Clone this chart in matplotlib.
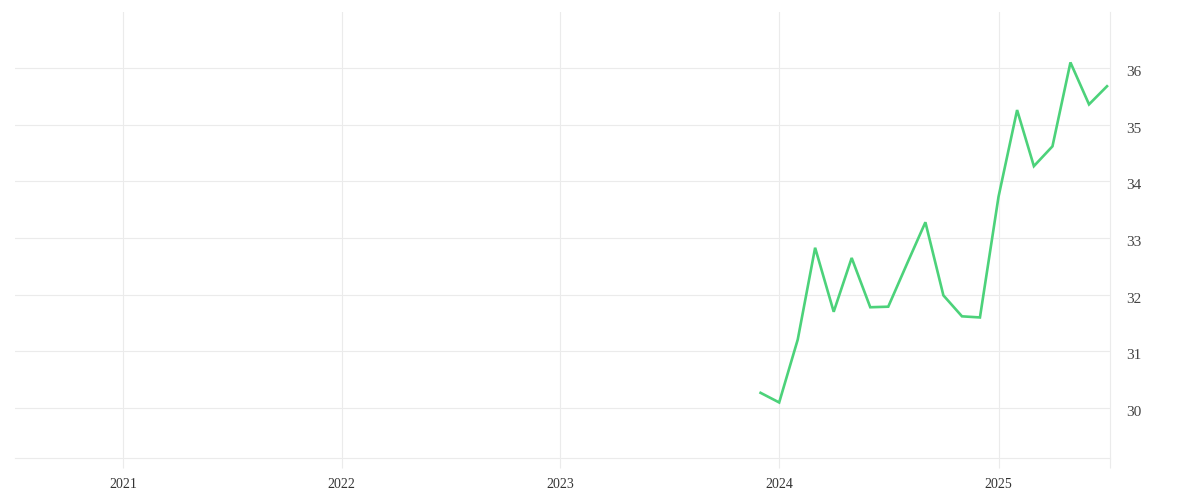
import matplotlib
matplotlib.use("Agg")
import matplotlib.pyplot as plt
import matplotlib.dates as mdates
import matplotlib.transforms as mtransforms
from datetime import datetime

# Data (monthly values)
months = ["2023-12", "2024-01", "2024-02", "2024-03", "2024-04", "2024-05",
          "2024-06", "2024-07", "2024-08", "2024-09", "2024-10", "2024-11",
          "2024-12", "2025-01", "2025-02", "2025-03", "2025-04", "2025-05",
          "2025-06", "2025-07"]
values = [30.27, 30.10, 31.21, 32.83, 31.70, 32.65,
          31.78, 31.79, 32.54, 33.28, 31.99, 31.62,
          31.60, 33.73, 35.26, 34.27, 34.62, 36.10,
          35.36, 35.68]
year_ticks = [2021, 2022, 2023, 2024, 2025]
y_ticks = [30, 31, 32, 33, 34, 35, 36]

dates = [datetime.strptime(m, "%Y-%m") for m in months]

plt.rcParams['font.family'] = ['Liberation Serif', 'DejaVu Serif']

W, H = 1200, 500
fig = plt.figure(figsize=(W / 100, H / 100), dpi=100)
left, right, top, bottom = 15, 1110, 12, 458
ax = fig.add_axes([left / W, 1 - bottom / H, (right - left) / W, (bottom - top) / H])

grid_c = '#ebebeb'
line_c = '#4cd27a'

ax.plot(dates, values, color=line_c, linewidth=1.9, solid_joinstyle='miter')

ax.set_xlim(datetime(2020, 7, 5), datetime(2025, 7, 6))
ax.set_ylim(29.12, 36.99)

ax.set_xticks([datetime(y, 1, 1) for y in year_ticks])
ax.set_xticklabels([str(y) for y in year_ticks])
ax.set_xticks([datetime(2025, 7, 6)], minor=True)
ax.set_yticks(y_ticks)
ax.set_yticklabels([str(v) for v in y_ticks])

ax.yaxis.tick_right()
ax.grid(True, color=grid_c, linewidth=0.8)
ax.set_axisbelow(True)

for s in ['top', 'left']:
    ax.spines[s].set_visible(False)
for s in ['bottom', 'right']:
    ax.spines[s].set_color(grid_c)
    ax.spines[s].set_linewidth(0.8)

ax.tick_params(axis='x', which='both', direction='out', length=7.2, width=0.8,
               color=grid_c, labelsize=10, labelcolor='#333333', pad=7)
ax.tick_params(axis='y', length=0, labelsize=11, labelcolor='#444444', pad=12)

offset = mtransforms.ScaledTranslation(0, -2 / 72, fig.dpi_scale_trans)
for lab in ax.get_yticklabels():
    lab.set_transform(lab.get_transform() + offset)

fig.savefig("out.png", dpi=100, facecolor='white')
